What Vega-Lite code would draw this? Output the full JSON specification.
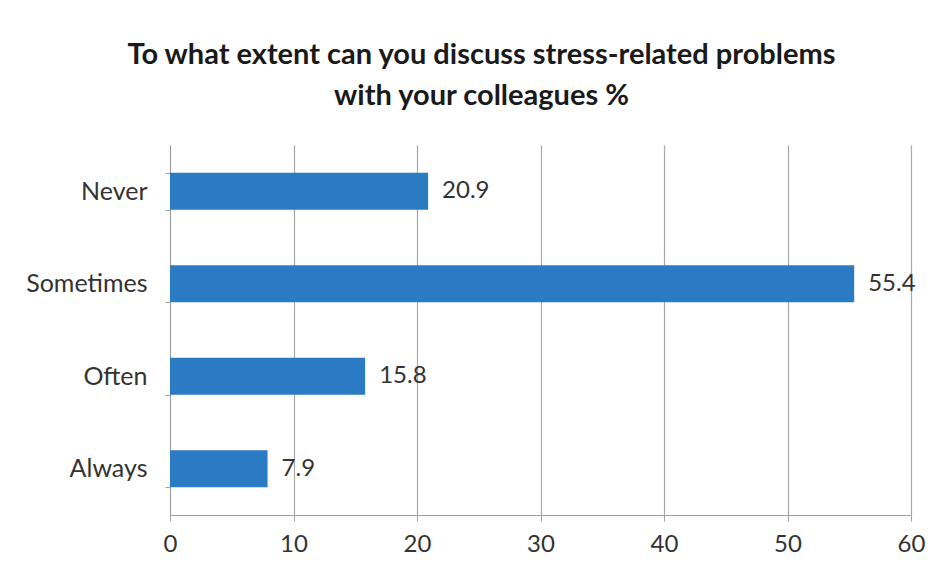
{
  "$schema": "https://vega.github.io/schema/vega-lite/v6.json",
  "width": 741,
  "height": 370,
  "autosize": "none",
  "padding": {"left": 170, "top": 145, "right": 33, "bottom": 64},
  "background": "#ffffff",
  "title": {
    "text": ["To what extent can you discuss stress-related problems", "with your colleagues %"],
    "anchor": "middle",
    "frame": "group",
    "dx": -59,
    "offset": 22,
    "font": "Lato",
    "fontSize": 29,
    "fontWeight": "bold",
    "color": "#1a1a1a",
    "lineHeight": 41
  },
  "data": {
    "values": [
      {"response": "Never", "pct": 20.9},
      {"response": "Sometimes", "pct": 55.4},
      {"response": "Often", "pct": 15.8},
      {"response": "Always", "pct": 7.9}
    ]
  },
  "encoding": {
    "y": {
      "field": "response",
      "type": "nominal",
      "sort": ["Never", "Sometimes", "Often", "Always"],
      "scale": {"paddingInner": 0.6, "paddingOuter": 0.3},
      "axis": {
        "title": null,
        "tickBand": "extent",
        "tickSize": 5,
        "tickColor": "#a0a0a0",
        "domainColor": "#a0a0a0",
        "labelFont": "Lato",
        "labelFontSize": 25,
        "labelColor": "#333333",
        "labelPadding": 18,
        "grid": false
      }
    },
    "x": {
      "field": "pct",
      "type": "quantitative",
      "scale": {"domain": [0, 60], "nice": false},
      "axis": {
        "title": null,
        "values": [0, 10, 20, 30, 40, 50, 60],
        "grid": true,
        "gridColor": "#a8a8a8",
        "gridWidth": 1.2,
        "tickColor": "#a0a0a0",
        "tickSize": 6,
        "domainColor": "#a0a0a0",
        "labelFont": "Lato",
        "labelFontSize": 24,
        "labelFlush": false,
        "labelColor": "#333333",
        "labelPadding": 11
      }
    }
  },
  "layer": [
    {"mark": {"type": "bar", "color": "#2b7bc4"}},
    {
      "mark": {"type": "text", "align": "left", "dx": 14, "font": "Lato", "fontSize": 24, "color": "#333333"},
      "encoding": {"text": {"field": "pct", "type": "quantitative", "format": ".1f"}}
    }
  ],
  "config": {"view": {"stroke": null}}
}
